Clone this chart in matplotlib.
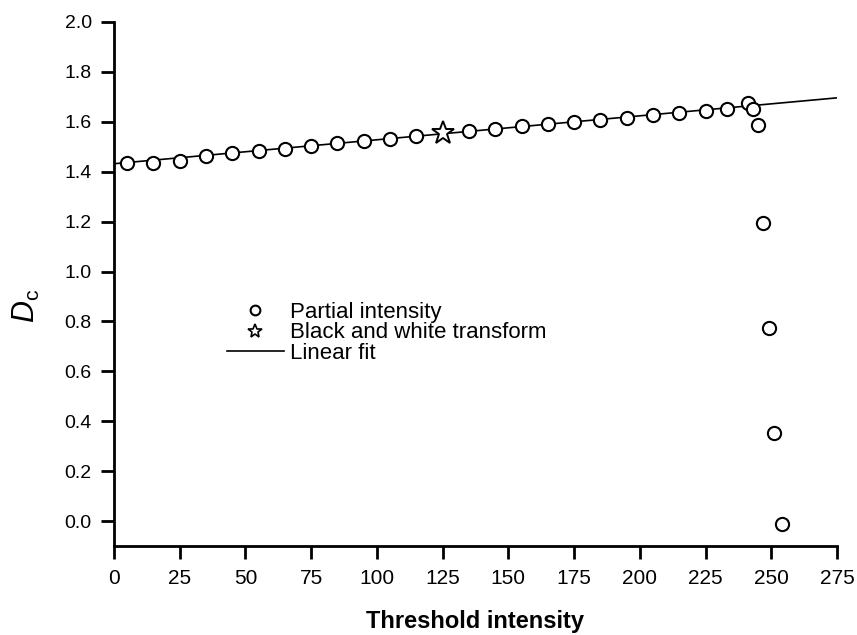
import matplotlib
matplotlib.use("Agg")
import matplotlib.pyplot as plt
from matplotlib.lines import Line2D
import numpy as np

plt.rcParams["font.family"] = ["Liberation Sans", "DejaVu Sans"]
plt.rcParams["mathtext.fontset"] = "custom"
plt.rcParams["mathtext.rm"] = "Liberation Sans"
plt.rcParams["mathtext.it"] = "Liberation Sans:italic"

# Box-counting dimension vs. threshold intensity
threshold = [5, 15, 25, 35, 45, 55, 65, 75, 85, 95, 105, 115,
             135, 145, 155, 165, 175, 185, 195, 205, 215, 225, 233,
             241, 243, 245, 247, 249, 251, 254]
dc_partial = [1.435, 1.433, 1.443, 1.461, 1.473, 1.482, 1.491, 1.503,
              1.517, 1.522, 1.531, 1.542,
              1.563, 1.571, 1.582, 1.590, 1.600, 1.609, 1.617, 1.627,
              1.636, 1.644, 1.651,
              1.676, 1.651, 1.589, 1.194, 0.775, 0.352, -0.013]

bw_threshold = [125]
dc_bw = [1.557]

fit_intercept = 1.432
fit_slope = 0.00096
fit_range = [0, 275]

x_ticks = [0, 25, 50, 75, 100, 125, 150, 175, 200, 225, 250, 275]
y_ticks = [0.0, 0.2, 0.4, 0.6, 0.8, 1.0, 1.2, 1.4, 1.6, 1.8, 2.0]

W, H = 857, 635
fig = plt.figure(figsize=(W / 100, H / 100), dpi=100)
ax = fig.add_axes([114 / W, 89 / H, 723 / W, 524 / H])

fx = np.array(fit_range, dtype=float)
ax.plot(fx, fit_intercept + fit_slope * fx, color="black", lw=1.2, zorder=2)
ax.plot(threshold, dc_partial, linestyle="none", marker="o", ms=9.5,
        mfc="white", mec="black", mew=1.5, zorder=3)
ax.plot(bw_threshold, dc_bw, linestyle="none", marker="*", ms=17,
        mfc="white", mec="black", mew=1.4, zorder=4)

ax.set_xlim(0, 275)
ax.set_ylim(-0.1, 2.0)
ax.set_xticks(x_ticks)
ax.set_yticks(y_ticks)
ax.set_yticklabels([f"{v:.1f}" for v in y_ticks])

for s in ("top", "right"):
    ax.spines[s].set_visible(False)
for s in ("left", "bottom"):
    ax.spines[s].set_linewidth(2.0)

ax.tick_params(axis="both", direction="out", length=9.5, width=2.0)
ax.tick_params(axis="x", labelsize=15, pad=7)
ax.tick_params(axis="y", labelsize=14, pad=6.5)

ax.set_xlabel("Threshold intensity", fontsize=17, fontweight="bold")
ax.xaxis.set_label_coords(0.5, -0.122)
ax.set_ylabel(r"$\mathit{D}_{\mathrm{c}}$", fontsize=22)
ax.yaxis.set_label_coords(-0.099, 0.458)

handles = [
    Line2D([], [], linestyle="none", marker="o", ms=7, mfc="white",
           mec="black", mew=1.5),
    Line2D([], [], linestyle="none", marker="*", ms=10, mfc="white",
           mec="black", mew=1.2),
    Line2D([], [], color="black", lw=1.2),
]
labels = ["Partial intensity", "Black and white transform", "Linear fit"]
ax.legend(handles, labels, loc="upper left",
          bbox_to_anchor=(227 / W, 1 - 302 / H), bbox_transform=fig.transFigure,
          frameon=False, fontsize=16, handlelength=2.55, handletextpad=0.28,
          labelspacing=-0.03, borderpad=0, borderaxespad=0)

fig.savefig("out.png", dpi=100)
